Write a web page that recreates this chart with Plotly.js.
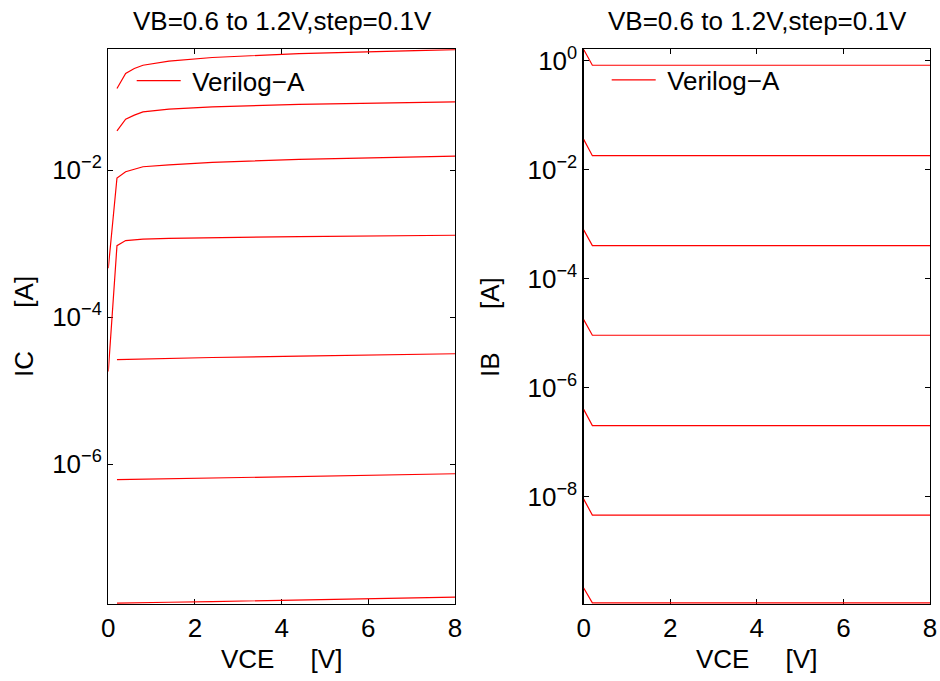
<!DOCTYPE html>
<html><head><meta charset="utf-8">
<script src="https://cdn.plot.ly/plotly-3.0.1.min.js"></script>
<style>html,body{margin:0;padding:0;background:#fff}#chart{width:940px;height:681px}</style>
</head><body><div id="chart"></div><script>
// VCE sweep points [V]
const VCE = [0, 0.2, 0.4, 0.6, 0.8, 1.4, 2.4, 4.4, 8];
const VB_LABELS = ['1.2', '1.1', '1.0', '0.9', '0.8', '0.7', '0.6'];

// Collector current IC [A] per VB (null = not shown on log scale)
const IC_VB12 = [null, 0.1285, 0.206, 0.240, 0.266, 0.302, 0.339, 0.384, 0.435];
const IC_VB11 = [null, 0.0341, 0.0492, 0.0558, 0.0618, 0.0673, 0.0723, 0.078, 0.0845];
const IC_VB10 = [4.63e-4, 7.79e-3, 9.48e-3, 0.0103, 0.0111, 0.0118, 0.0127, 0.0140, 0.0155];
const IC_VB09 = [1.83e-5, 9.38e-4, 1.10e-3, 1.13e-3, 1.15e-3, 1.18e-3, 1.205e-3, 1.245e-3, 1.30e-3];
const IC_VB08 = [null, 2.64e-5, 2.66e-5, 2.68e-5, 2.70e-5, 2.75e-5, 2.83e-5, 2.95e-5, 3.18e-5];
const IC_VB07 = [null, 6.17e-7, 6.2e-7, 6.22e-7, 6.25e-7, 6.35e-7, 6.5e-7, 6.8e-7, 7.43e-7];
const IC_VB06 = [null, 1.29e-8, 1.30e-8, 1.30e-8, 1.31e-8, 1.33e-8, 1.36e-8, 1.42e-8, 1.56e-8];

// Base current IB [A] per VB
const IB_VB12 = [1.62, 0.834, 0.834, 0.834, 0.834, 0.834, 0.834, 0.834, 0.834];
const IB_VB11 = [0.0363, 0.0182, 0.0182, 0.0182, 0.0182, 0.0182, 0.0182, 0.0182, 0.0182];
const IB_VB10 = [7.9e-4, 4.07e-4, 4.07e-4, 4.07e-4, 4.07e-4, 4.07e-4, 4.07e-4, 4.07e-4, 4.07e-4];
const IB_VB09 = [1.77e-5, 9.15e-6, 9.15e-6, 9.15e-6, 9.15e-6, 9.15e-6, 9.15e-6, 9.15e-6, 9.15e-6];
const IB_VB08 = [3.98e-7, 2.0e-7, 2.0e-7, 2.0e-7, 2.0e-7, 2.0e-7, 2.0e-7, 2.0e-7, 2.0e-7];
const IB_VB07 = [8.93e-9, 4.55e-9, 4.55e-9, 4.55e-9, 4.55e-9, 4.55e-9, 4.55e-9, 4.55e-9, 4.55e-9];
const IB_VB06 = [2.09e-10, 1.11e-10, 1.11e-10, 1.11e-10, 1.11e-10, 1.11e-10, 1.11e-10, 1.11e-10, 1.11e-10];

const X_TICKS = [0, 2, 4, 6, 8];
const IC_TICKVALS = [1e-2, 1e-4, 1e-6];
const IC_TICKTEXT = ['10<sup>\u22122</sup>', '10<sup>\u22124</sup>', '10<sup>\u22126</sup>'];
const IB_TICKVALS = [1, 1e-2, 1e-4, 1e-6, 1e-8];
const IB_TICKTEXT = ['10<sup>0</sup>', '10<sup>\u22122</sup>', '10<sup>\u22124</sup>', '10<sup>\u22126</sup>', '10<sup>\u22128</sup>'];

const TITLE = 'VB=0.6 to 1.2V,step=0.1V';
const LEGEND_NAME = '\u2005Verilog\u2212A';

const IC_SERIES = [IC_VB12, IC_VB11, IC_VB10, IC_VB09, IC_VB08, IC_VB07, IC_VB06];
const IB_SERIES = [IB_VB12, IB_VB11, IB_VB10, IB_VB09, IB_VB08, IB_VB07, IB_VB06];

const RED = '#ff0000';
const FONT = 'Liberation Sans, Arial, Helvetica, sans-serif';
const traces = [];
IC_SERIES.forEach((ys, i) => traces.push({
  x: VCE, y: ys, type: 'scatter', mode: 'lines', xaxis: 'x', yaxis: 'y',
  line: {color: RED, width: 1.2}, name: LEGEND_NAME, legendgroup: 'ic',
  showlegend: i === 0, legend: 'legend', connectgaps: false,
  hovertemplate: 'VB=' + VB_LABELS[i] + 'V<br>VCE=%{x}<br>IC=%{y:.3e}<extra></extra>'
}));
IB_SERIES.forEach((ys, i) => traces.push({
  x: VCE, y: ys, type: 'scatter', mode: 'lines', xaxis: 'x2', yaxis: 'y2',
  line: {color: RED, width: 1.2}, name: LEGEND_NAME, legendgroup: 'ib',
  showlegend: i === 0, legend: 'legend2',
  hovertemplate: 'VB=' + VB_LABELS[i] + 'V<br>VCE=%{x}<br>IB=%{y:.3e}<extra></extra>'
}));

const W = 940, H = 681;
const axCommon = {
  showline: true, linecolor: '#000', linewidth: 1.3, mirror: 'ticks',
  ticks: 'inside', ticklen: 5, tickwidth: 1, tickcolor: '#000',
  showgrid: false, zeroline: false, automargin: false, layer: 'below traces',
  tickfont: {family: FONT, size: 26, color: '#000'}
};
const yDom = [1 - 604 / H, 1 - 49.3 / H];
const layout = {
  width: W, height: H,
  paper_bgcolor: '#fff', plot_bgcolor: '#fff',
  margin: {l: 0, r: 0, t: 0, b: 0},
  font: {family: FONT, size: 26, color: '#000'},
  xaxis: Object.assign({}, axCommon, {domain: [108.3 / W, 455 / W], range: [0, 8],
    tickmode: 'array', tickvals: X_TICKS, anchor: 'y'}),
  yaxis: Object.assign({}, axCommon, {domain: yDom, type: 'log', range: [-7.9, -0.358],
    tickmode: 'array', tickvals: IC_TICKVALS, ticktext: IC_TICKTEXT, anchor: 'x'}),
  xaxis2: Object.assign({}, axCommon, {domain: [583.7 / W, 930 / W], range: [0, 8],
    tickmode: 'array', tickvals: X_TICKS, anchor: 'y2'}),
  yaxis2: Object.assign({}, axCommon, {domain: yDom, type: 'log', range: [-9.975, 0.214],
    tickmode: 'array', tickvals: IB_TICKVALS, ticktext: IB_TICKTEXT, anchor: 'x2'}),
  legend: {x: 131.7 / W, y: 1 - 80.7 / H, xanchor: 'left', yanchor: 'middle',
    bgcolor: 'rgba(0,0,0,0)', borderwidth: 0, itemwidth: 44,
    font: {family: FONT, size: 26, color: '#000'}},
  legend2: {x: 606.7 / W, y: 1 - 80 / H, xanchor: 'left', yanchor: 'middle',
    bgcolor: 'rgba(0,0,0,0)', borderwidth: 0, itemwidth: 44,
    font: {family: FONT, size: 26, color: '#000'}},
  annotations: [
    {text: TITLE, xref: 'paper', yref: 'paper', x: 282.5 / W, y: 1 - 21 / H,
     xanchor: 'center', yanchor: 'middle', showarrow: false, font: {size: 26}},
    {text: TITLE, xref: 'paper', yref: 'paper', x: 757 / W, y: 1 - 21 / H,
     xanchor: 'center', yanchor: 'middle', showarrow: false, font: {size: 26}},
    {text: 'VCE\u00a0\u00a0\u00a0\u00a0\u00a0[V]', xref: 'paper', yref: 'paper', x: 281.6 / W, y: 1 - 659 / H,
     xanchor: 'center', yanchor: 'middle', showarrow: false, font: {size: 26}},
    {text: 'VCE\u00a0\u00a0\u00a0\u00a0\u00a0[V]', xref: 'paper', yref: 'paper', x: 756.8 / W, y: 1 - 659 / H,
     xanchor: 'center', yanchor: 'middle', showarrow: false, font: {size: 26}},
    {text: 'IC\u00a0\u00a0\u00a0\u00a0\u00a0\u00a0[A]', xref: 'paper', yref: 'paper', x: 24 / W, y: 1 - 327 / H,
     xanchor: 'center', yanchor: 'middle', textangle: -90, showarrow: false, font: {size: 26}},
    {text: 'IB\u00a0\u00a0\u00a0\u00a0\u00a0\u00a0[A]', xref: 'paper', yref: 'paper', x: 490 / W, y: 1 - 327 / H,
     xanchor: 'center', yanchor: 'middle', textangle: -90, showarrow: false, font: {size: 26}}
  ]
};
Plotly.newPlot('chart', traces, layout, {displayModeBar: false, staticPlot: true});
</script></body></html>
